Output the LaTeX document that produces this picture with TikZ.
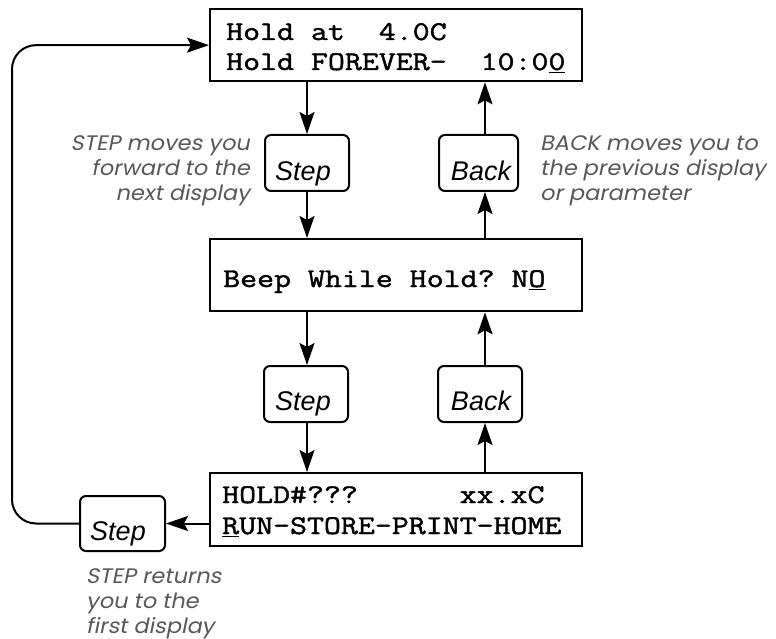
\documentclass[tikz,border=0pt]{standalone}
\usepackage{fontspec}
\usetikzlibrary{arrows.meta}
\newfontfamily\lcdfont[FakeBold=1.6, FakeStretch=1.22]{Latin Modern Mono}
\newfontfamily\keyfontfam{Liberation Sans}
\newfontfamily\notefontfam[FakeSlant=0.2, FakeStretch=1.07]{Poppins}
\definecolor{notegray}{RGB}{88,88,88}
\tikzset{
  display/.style={draw, line width=2.3pt, rectangle, inner sep=0pt, anchor=north west},
  keybox/.style={draw, line width=2pt, rounded corners=6pt, inner sep=0pt, anchor=north west},
  arr/.style={line width=2pt, -{Stealth[length=22pt,width=15pt,inset=4pt]}},
  lcdtext/.style={anchor=base west, inner sep=0pt, font=\lcdfont\fontsize{27}{30}\selectfont},
  keytext/.style={anchor=base, inner sep=0pt, font=\keyfontfam\itshape\fontsize{27}{30}\selectfont},
  note/.style={inner sep=0pt, text=notegray, font=\notefontfam\fontsize{21}{25}\selectfont}
}
\begin{document}
\begin{tikzpicture}[x=1pt,y=-1pt]
\useasboundingbox (0,0) rectangle (776,639);
% displays
\node[display, minimum width=372pt, minimum height=72pt] (top) at (209,8) {};
\node[display, minimum width=372pt, minimum height=72pt] (mid) at (209,238) {};
\node[display, minimum width=372pt, minimum height=73pt] (bot) at (209,472) {};
\node[lcdtext] (t1) at (226,40) {Hold~at~~4.0C};
\node[lcdtext] (t2) at (226,70) {Hold~FOREVER-~~10:0\underline{0}};
\node[lcdtext] (m1) at (223,287) {Beep~While~Hold?~N\underline{O}};
\node[lcdtext] (b1) at (222,503) {HOLD\#???~~~~~~xx.xC};
\node[lcdtext] (b2) at (222,534) {\underline{R}UN-STORE-PRINT-HOME};
% keys
\node[keybox, minimum width=84pt, minimum height=56pt] (step1) at (264,134) {};
\node[keybox, minimum width=79pt, minimum height=56pt] (back1) at (438,134) {};
\node[keybox, minimum width=84pt, minimum height=56pt] (step2) at (263,365) {};
\node[keybox, minimum width=84pt, minimum height=56pt] (back2) at (437,365) {};
\node[keybox, minimum width=85pt, minimum height=55pt] (step3) at (79,495) {};
\node[keytext] (s1) at (303,181) {Step};
\node[keytext] (k1) at (481,181) {Back};
\node[keytext] (s2) at (303,410) {Step};
\node[keytext] (k2) at (481,410) {Back};
\node[keytext] (s3) at (118,540) {Step};
% columns
\coordinate (sx) at (307,0);
\coordinate (bx) at (485,0);
\coordinate (loop) at (12,300);
% arrows
\draw[arr] (top.south -| sx) -- (step1.north -| sx);
\draw[arr] (step1.south -| sx) -- (mid.north -| sx);
\draw[arr] (mid.north -| bx) -- (back1.south -| bx);
\draw[arr] (back1.north -| bx) -- (top.south -| bx);
\draw[arr] (mid.south -| sx) -- (step2.north -| sx);
\draw[arr] (step2.south -| sx) -- (bot.north -| sx);
\draw[arr] (bot.north -| bx) -- (back2.south -| bx);
\draw[arr] (back2.north -| bx) -- (mid.south -| bx);
\draw[arr] (bot.west |- step3.east) -- (step3.east);
\draw[arr, rounded corners=24pt] (step3.west) -| (loop) |- (top.west);
% notes
\node[note, anchor=north east, align=right] (n1) at (250,135) {STEP moves you\\forward to the\\next display};
\node[note, anchor=north west, align=left] (n2) at (540,135) {BACK moves you to\\the previous display\\or parameter};
\node[note, anchor=north west, align=left] (n3) at (86,568) {STEP returns\\you to the\\first display};
\end{tikzpicture}
\end{document}
